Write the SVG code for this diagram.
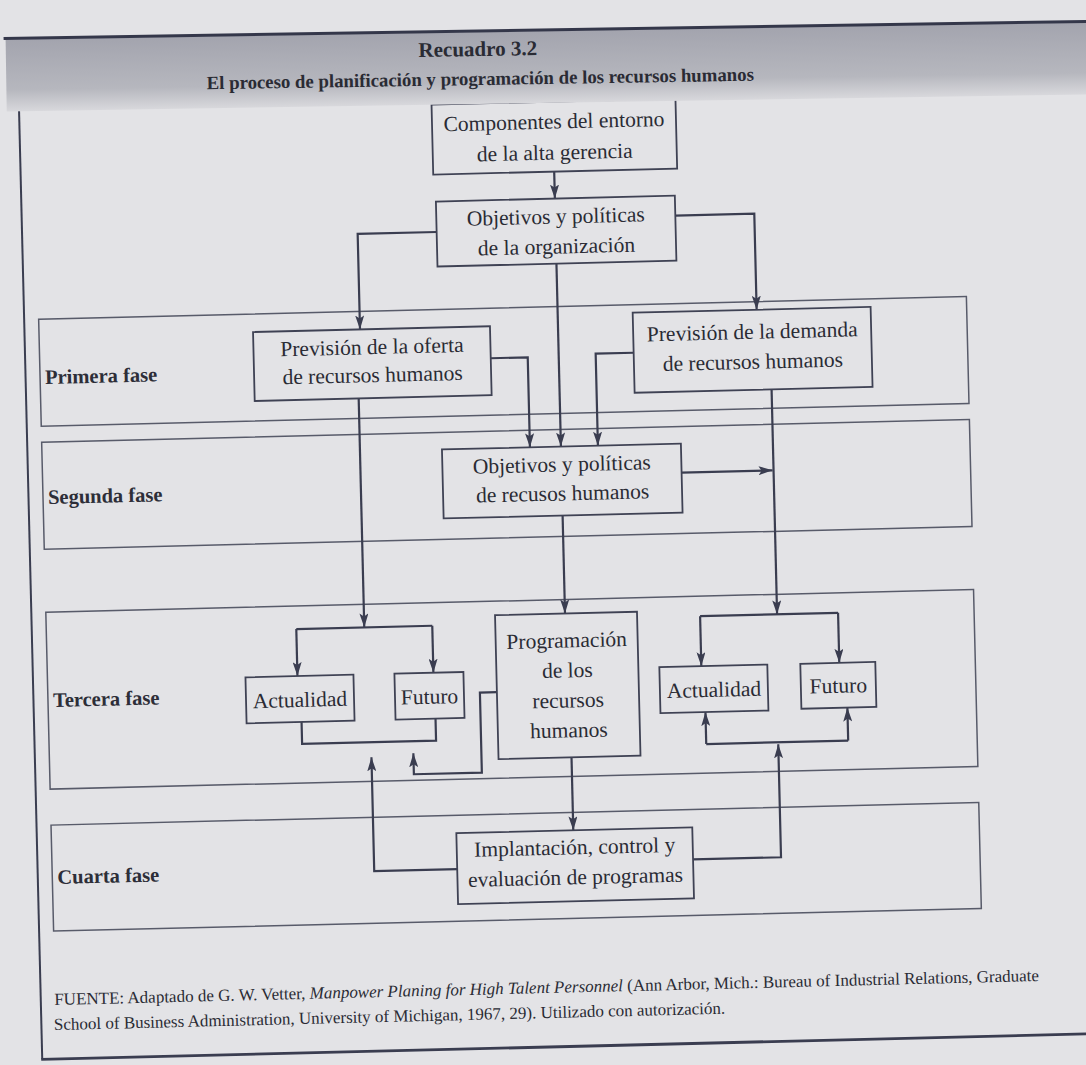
<svg xmlns="http://www.w3.org/2000/svg" width="1086" height="1065" viewBox="0 0 1086 1065">
<defs>
  <linearGradient id="band" x1="0" y1="0" x2="0" y2="1">
    <stop offset="0" stop-color="#a3a4ae"/>
    <stop offset="0.7" stop-color="#b6b7be"/>
    <stop offset="1" stop-color="#d8d8dc"/>
  </linearGradient>
  <marker id="ah" viewBox="0 0 14 9" refX="14" refY="4.5" markerWidth="14" markerHeight="9" markerUnits="userSpaceOnUse" orient="auto">
    <path d="M0,0 L14,4.5 L0,9 L3,4.5 Z" fill="#3a3d50"/>
  </marker>
</defs>
<style>
  .node rect{fill:none;stroke:#3f4254;stroke-width:1.8}
  .phase rect{fill:none;stroke:#585b6a;stroke-width:1.5}
  .t{font-family:"Liberation Serif","Times New Roman",serif;font-size:21.5px;fill:#2a2b34;text-anchor:middle}
  .lbl{font-family:"Liberation Serif","Times New Roman",serif;font-weight:bold;font-size:20.5px;fill:#2d2e38}
  .hd{font-family:"Liberation Serif","Times New Roman",serif;font-weight:bold;fill:#2a2b34;text-anchor:middle}
  .fn{font-family:"Liberation Serif","Times New Roman",serif;font-size:17px;fill:#2a2b34}
  #connectors path{fill:none;stroke:#3a3d50;stroke-width:2.2}
  #connectors path.a{marker-end:url(#ah)}
  .frame{fill:none;stroke:#3a3d50}
</style>
<rect x="0" y="0" width="1086" height="1065" fill="#e3e3e6"/>

<g transform="rotate(-1.4 543 532)">
  <!-- outer frame -->
  <path class="frame" d="M29.5,40 V1047" stroke-width="2"/>
  <path class="frame" d="M28.5,1047 H1110" stroke-width="2.8"/>

  <!-- phase boxes -->
  <g id="phase-1" class="phase"><rect x="44" y="307" width="928" height="107"/><text class="lbl" x="49" y="372">Primera fase</text></g>
  <g id="phase-2" class="phase"><rect x="44" y="430" width="928" height="107"/><text class="lbl" x="49" y="492">Segunda fase</text></g>
  <g id="phase-3" class="phase"><rect x="44" y="600" width="928" height="177"/><text class="lbl" x="49" y="695">Tercera fase</text></g>
  <g id="phase-4" class="phase"><rect x="44" y="813" width="928" height="106"/><text class="lbl" x="49" y="872">Cuarta fase</text></g>

  <!-- connectors -->
  <g id="connectors">
    <path class="a" d="M563,172 V199"/>
    <path class="a" d="M444,229.5 H365 V325"/>
    <path class="a" d="M683,219 H762 V315"/>
    <path class="a" d="M563,264 V447"/>
    <path class="a" d="M495,357 H532 V447"/>
    <path class="a" d="M638,355 H600 V447"/>
    <path class="a" d="M683,476 H774"/>
    <path class="a" d="M362,394 V623"/>
    <path d="M294,623 H430"/>
    <path class="a" d="M294,623 V670"/>
    <path class="a" d="M430,623 V670"/>
    <path d="M297,716 V738 H431 V716"/>
    <path class="a" d="M493,691 H476 V771 H408 V750"/>
    <path class="a" d="M449,867 H366 V753"/>
    <path class="a" d="M775,395 V620"/>
    <path d="M698,620 H836"/>
    <path class="a" d="M698,620 V670"/>
    <path class="a" d="M836,620 V670"/>
    <path d="M701,748 H843"/>
    <path class="a" d="M701,748 V716"/>
    <path class="a" d="M843,748 V715"/>
    <path class="a" d="M685,863 H773 V750"/>
    <path class="a" d="M563,516 V614"/>
    <path class="a" d="M566,758 V831"/>
  </g>

  <!-- nodes -->
  <g id="n-componentes" class="node"><rect x="442" y="102" width="244" height="70"/>
    <text class="t" x="564" y="129">Componentes del entorno</text><text class="t" x="564" y="160">de la alta gerencia</text></g>
  <g id="n-objetivos-org" class="node"><rect x="444" y="199" width="239" height="65"/>
    <text class="t" x="563.5" y="224">Objetivos y políticas</text><text class="t" x="563.5" y="254">de la organización</text></g>
  <g id="n-oferta" class="node"><rect x="258" y="325" width="237" height="69"/>
    <text class="t" x="376.5" y="350">Previsión de la oferta</text><text class="t" x="376.5" y="378">de recursos humanos</text></g>
  <g id="n-demanda" class="node"><rect x="638" y="315" width="238" height="80"/>
    <text class="t" x="757" y="344">Previsión de la demanda</text><text class="t" x="757" y="374">de recursos humanos</text></g>
  <g id="n-objetivos-rh" class="node"><rect x="444" y="447" width="239" height="69"/>
    <text class="t" x="563.5" y="472">Objetivos y políticas</text><text class="t" x="563.5" y="501">de recusos humanos</text></g>
  <g id="n-programacion" class="node"><rect x="493" y="614" width="142" height="144"/>
    <text class="t" x="564" y="648">Programación</text><text class="t" x="564" y="678">de los</text>
    <text class="t" x="564" y="708">recursos</text><text class="t" x="564" y="738">humanos</text></g>
  <g id="n-actualidad-1" class="node"><rect x="242" y="670" width="108" height="46"/>
    <text class="t" x="296" y="701">Actualidad</text></g>
  <g id="n-futuro-1" class="node"><rect x="391" y="670" width="69" height="46"/>
    <text class="t" x="425.5" y="701">Futuro</text></g>
  <g id="n-actualidad-2" class="node"><rect x="656" y="670" width="108" height="46"/>
    <text class="t" x="710" y="701">Actualidad</text></g>
  <g id="n-futuro-2" class="node"><rect x="797" y="670" width="75" height="45"/>
    <text class="t" x="834.5" y="700">Futuro</text></g>
  <g id="n-implantacion" class="node"><rect x="449" y="831" width="236" height="71"/>
    <text class="t" x="567" y="855">Implantación, control y</text><text class="t" x="567" y="885">evaluación de programas</text></g>

  <!-- source note -->
  <text class="fn" x="43" y="993">FUENTE: Adaptado de G. W. Vetter, <tspan font-style="italic">Manpower Planing for High Talent Personnel</tspan> (Ann Arbor, Mich.: Bureau of Industrial Relations, Graduate</text>
  <text class="fn" x="42" y="1018">School of Business Administration, University of Michigan, 1967, 29). Utilizado con autorización.</text>
</g>

<!-- header band -->
<g id="header" transform="rotate(-0.9 543 60)">
  <rect x="6" y="31" width="1106" height="72" fill="url(#band)"/>
  <path d="M4,30 H1110" stroke="#34374a" stroke-width="3"/>
  <text class="hd" x="478" y="55" font-size="21px">Recuadro 3.2</text>
  <text class="hd" x="480" y="84" font-size="18.8px">El proceso de planificación y programación de los recursos humanos</text>
</g>
</svg>
